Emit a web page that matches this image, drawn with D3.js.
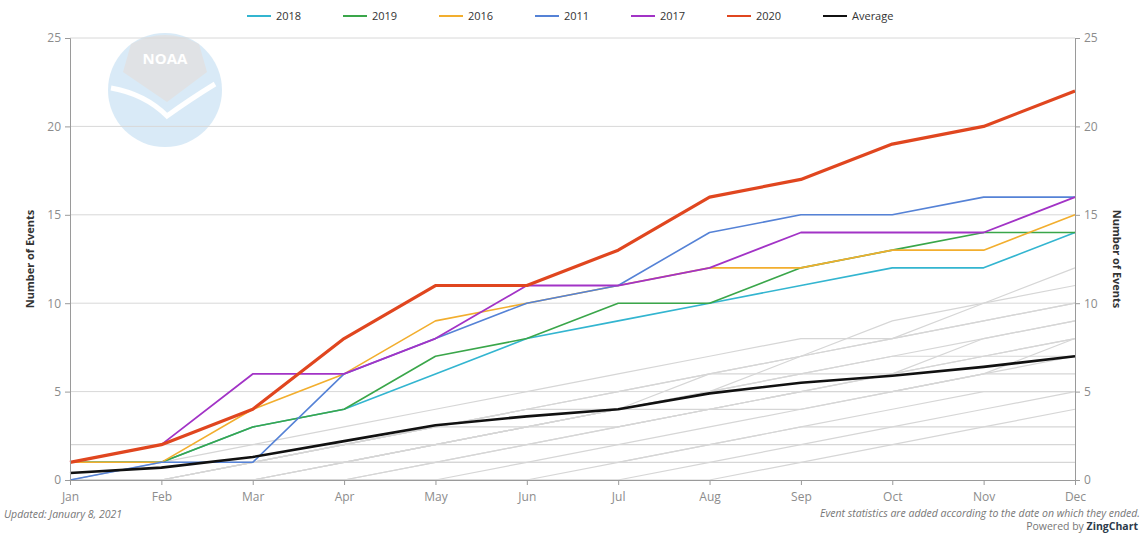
<!DOCTYPE html>
<html>
<head>
<meta charset="utf-8">
<style>
body { margin:0; background:#fff; }
svg { font-family: "Open Sans", "DejaVu Sans", sans-serif; }
</style>
</head>
<body>
<svg width="1143" height="534"></svg>
<script src="https://cdn.jsdelivr.net/npm/d3@7/dist/d3.min.js"></script>
<script>

// months on the x axis
var months = ["Jan","Feb","Mar","Apr","May","Jun","Jul","Aug","Sep","Oct","Nov","Dec"];
var yTicks = [0,5,10,15,20,25];

// highlighted years (cumulative number of events)
var names = ["2018","2019","2016","2011","2017","2020","Average"];
var colors = ["#33b5d0","#3aa64a","#f2ae2e","#5582d6","#a233c6","#e0461f","#111111"];
var widths = [1.6,1.6,1.6,1.6,1.8,3.2,2.6];
var v2018 = [1,1,3,4,6,8,9,10,11,12,12,14];
var v2019 = [1,1,3,4,7,8,10,10,12,13,14,14];
var v2016 = [1,1,4,6,9,10,11,12,12,13,13,15];
var v2011 = [0,1,1,6,8,10,11,14,15,15,16,16];
var v2017 = [1,2,6,6,8,11,11,12,14,14,14,16];
var v2020 = [1,2,4,8,11,11,13,16,17,19,20,22];
var vAvg  = [0.4,0.7,1.3,2.2,3.1,3.6,4.0,4.9,5.5,5.9,6.4,7.0];

// other years, drawn in light gray
var others = [
  [0,0,1,1,2,3,4,5,7,8,10,12],
  [0,1,1,2,3,4,5,6,7,9,10,11],
  [0,0,0,1,2,3,4,6,7,8,9,10],
  [1,1,2,3,4,5,6,7,8,8,9,10],
  [0,0,1,2,2,3,3,4,5,6,8,9],
  [0,0,0,0,1,2,3,4,5,6,7,8],
  [2,2,2,2,3,4,5,6,6,7,7,7],
  [0,0,1,1,1,2,2,3,4,5,6,6],
  [0,0,0,1,1,1,2,2,3,4,5,5],
  [0,0,0,0,0,1,1,2,3,3,4,5],
  [0,0,0,0,1,1,1,2,2,3,3,4],
  [0,0,0,0,0,0,1,1,2,2,3,3],
  [0,0,0,0,0,0,0,1,1,2,2,2],
  [0,0,0,0,0,0,0,0,1,1,1,1],
  [1,1,1,2,3,3,4,4,5,5,6,8],
  [0,1,1,1,2,2,3,4,4,5,6,7],
  [0,0,0,1,2,3,4,5,6,7,8,9],
  [0,0,1,2,3,4,4,5,6,6,7,8]
];

var series = [v2018,v2019,v2016,v2011,v2017,v2020,vAvg];

var svg = d3.select("svg");
var pLeft = 70, pRight = 1075, pTop = 38, pBottom = 480;

var x = d3.scalePoint().domain(months).range([pLeft,pRight]);
var y = d3.scaleLinear().domain([0,25]).range([pBottom,pTop]);

// NOAA logo in the background
var logo = svg.append("g").attr("transform","translate(165,90)").attr("opacity",0.5);
logo.append("circle").attr("r",57).attr("fill","#b4d7f0");
logo.append("path")
  .attr("d","M-34,-46 Q0,-64 34,-46 L42,-18 L2,12 L-42,-18 Z")
  .attr("fill","#c3c7cc");
logo.append("path")
  .attr("d","M-54,-2 Q-20,4 2,26 Q24,10 50,-6")
  .attr("fill","none").attr("stroke","#fff").attr("stroke-width",5);
logo.append("text").attr("x",0).attr("y",-26).attr("text-anchor","middle")
  .attr("font-size",15).attr("font-weight","bold").attr("fill","#fff").text("NOAA");

// grid lines
svg.append("g").selectAll("line").data(yTicks.slice(1)).enter().append("line")
  .attr("x1",pLeft).attr("x2",pRight)
  .attr("y1",function(d){ return y(d); }).attr("y2",function(d){ return y(d); })
  .attr("stroke","#d8d8d8").attr("stroke-width",1);

var line = d3.line()
  .x(function(d,i){ return x(months[i]); })
  .y(function(d){ return y(d); });

// gray lines for other years
svg.append("g").selectAll("path").data(others).enter().append("path")
  .attr("d",line).attr("fill","none").attr("stroke","#d6d6d6").attr("stroke-width",1.2);

// highlighted lines (average and 2020 on top)
var order = [0,1,2,3,4,6,5];
svg.append("g").selectAll("path").data(order).enter().append("path")
  .attr("d",function(k){ return line(series[k]); })
  .attr("fill","none")
  .attr("stroke",function(k){ return colors[k]; })
  .attr("stroke-width",function(k){ return widths[k]; })
  .attr("stroke-linejoin","round");

// axes
var yl = svg.append("g").attr("transform","translate("+pLeft+",0)")
  .call(d3.axisLeft(y).tickValues(yTicks).tickSize(5).tickPadding(4));
var yr = svg.append("g").attr("transform","translate("+pRight+",0)")
  .call(d3.axisRight(y).tickValues(yTicks).tickSize(5).tickPadding(4));
var xa = svg.append("g").attr("transform","translate(0,"+pBottom+")")
  .call(d3.axisBottom(x).tickSize(5).tickPadding(7));
[yl,yr,xa].forEach(function(a){
  a.select(".domain").attr("stroke","#9a9a9a");
  a.selectAll(".tick line").attr("stroke","#9a9a9a");
  a.selectAll("text").attr("fill","#8c8c8c").attr("font-size",12)
    .attr("font-family","\"Open Sans\", \"DejaVu Sans\", sans-serif");
});

// axis titles
svg.append("text").attr("transform","translate(34,259) rotate(-90)")
  .attr("text-anchor","middle").attr("font-size",11).attr("font-weight","bold")
  .attr("fill","#333").text("Number of Events");
svg.append("text").attr("transform","translate(1113,259) rotate(90)")
  .attr("text-anchor","middle").attr("font-size",11).attr("font-weight","bold")
  .attr("fill","#333").text("Number of Events");

// legend
var leg = svg.append("g").selectAll("g").data(names).enter().append("g")
  .attr("transform",function(d,i){ return "translate("+(247+i*96)+",16)"; });
leg.append("line").attr("x1",0).attr("x2",24)
  .attr("stroke",function(d,i){ return colors[i]; }).attr("stroke-width",2);
leg.append("text").attr("x",29).attr("y",4).attr("font-size",11)
  .attr("fill","#333").text(function(d){ return d; });

// footer notes
svg.append("text").attr("x",4).attr("y",518).attr("font-size",10.5)
  .attr("font-style","italic").attr("fill","#777").text("Updated: January 8, 2021");
svg.append("text").attr("x",1140).attr("y",517).attr("text-anchor","end")
  .attr("font-size",10.5).attr("font-style","italic").attr("fill","#777")
  .text("Event statistics are added according to the date on which they ended.");
var pw = svg.append("text").attr("x",1138).attr("y",530).attr("text-anchor","end")
  .attr("font-size",10.5).attr("fill","#777");
pw.append("tspan").text("Powered by ");
pw.append("tspan").attr("font-weight","bold").attr("fill","#2b3a4a").text("ZingChart");

</script>
</body>
</html>
